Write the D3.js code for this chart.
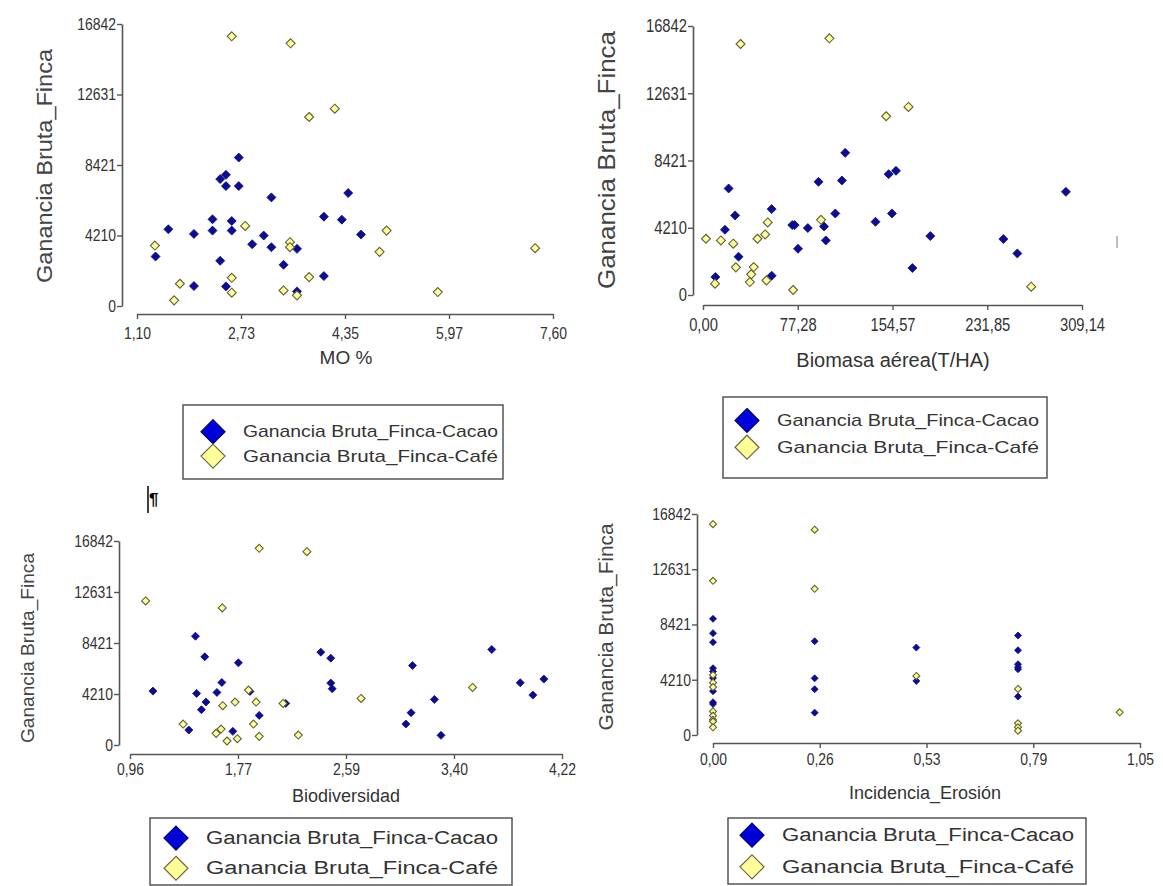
<!DOCTYPE html>
<html>
<head>
<meta charset="utf-8">
<script src="https://cdn.jsdelivr.net/npm/d3@7"></script>
<style>
body{margin:0;background:#fff;}
svg{display:block;font-family:"Liberation Sans",Arial,sans-serif;}
</style>
</head>
<body>
<svg id="chart" width="1163" height="886"></svg>
<script>

// shared y axis (Ganancia Bruta_Finca)
var yDomain = [0, 16842];
var yLabels = ["0", "4210", "8421", "12631", "16842"];
var seriesNames = ["Ganancia Bruta_Finca-Cacao", "Ganancia Bruta_Finca-Café"];

// panel 1 : MO %
var moDomain = [1.10, 7.60];
var moLabels = ["1,10", "2,73", "4,35", "5,97", "7,60"];
var moCacao = [[1.39,2956],[1.59,4582],[1.99,4305],[1.99,1190],[2.28,5178],[2.28,4503],
  [2.40,7578],[2.49,7836],[2.49,7161],[2.40,2698],[2.49,1170],[2.58,5078],[2.58,4503],
  [2.69,8867],[2.69,7161],[2.90,3690],[3.08,4206],[3.20,6487],[3.20,3511],[3.39,2460],
  [3.60,3412],[3.60,873],[4.02,5336],[4.02,1785],[4.30,5158],[4.40,6745],[4.60,4265]];
var moCafe = [[2.58,16108],[3.50,15691],[4.19,11783],[3.79,11287],[2.79,4781],[5.00,4503],
  [4.89,3234],[7.32,3452],[1.38,3610],[1.77,1329],[1.68,337],[2.58,1686],[2.58,793],
  [3.49,3809],[3.49,3511],[3.39,932],[3.60,635],[3.79,1726],[5.80,833]];

// panel 2 : Biomasa aérea(T/HA)
var bioDomain = [0, 309.14];
var bioLabels = ["0,00", "77,28", "154,57", "231,85", "309,14"];
var bioCacao = [[20.9,6669],[26.2,4981],[17.9,4085],[29.0,2397],[10.1,1125],[56.0,5377],
  [56.0,1209],[72.8,4377],[74.8,4377],[77.5,2897],[85.5,4189],[94.2,7086],[98.7,4293],
  [100.2,3418],[107.9,5106],[113.3,7170],[116.0,8900],[140.7,4585],[151.4,7566],
  [157.4,7774],[154.1,5106],[170.8,1688],[185.4,3689],[245.0,3501],[256.4,2605],[296.0,6461]];
var bioCafe = [[30.6,15715],[103.1,16069],[149.4,11192],[167.6,11776],[96.3,4710],[52.8,4544],
  [50.7,3793],[44.4,3522],[2.4,3522],[14.6,3418],[24.7,3210],[26.8,1730],[41.4,1751],
  [39.3,1292],[38.2,813],[9.8,709],[51.8,917],[73.5,313],[267.7,521]];

// panel 3 : Biodiversidad
var divDomain = [0.96, 4.22];
var divLabels = ["0,96", "1,77", "2,59", "3,40", "4,22"];
var divCacao = [[1.133,4451],[1.404,1236],[1.454,8984],[1.463,4258],[1.524,7281],[1.533,3544],
  [1.499,2912],[1.616,4341],[1.653,5165],[1.736,1126],[1.778,6786],[1.935,2445],[1.865,4423],
  [2.135,3434],[2.400,7665],[2.475,7171],[2.475,5110],[2.486,4643],[3.042,1731],[3.081,2665],
  [3.092,6566],[3.257,3764],[3.307,797],[3.690,7885],[3.905,5138],[4.000,4121],[4.083,5440]];
var divCafe = [[1.935,16237],[2.295,15962],[1.078,11896],[1.656,11319],[1.854,4533],[3.545,4753],
  [2.704,3846],[1.753,3544],[1.912,3544],[2.115,3434],[1.660,3242],[1.361,1731],[1.892,1731],
  [1.647,1319],[1.610,962],[1.770,522],[1.692,330],[1.935,714],[2.230,824]];

// panel 4 : Incidencia_Erosión
var eroDomain = [0, 1.05];
var eroLabels = ["0,00", "0,26", "0,53", "0,79", "1,05"];
var eroCacao = [[0,8853],[0,7760],[0,7073],[0,5088],[0,4834],[0,4346],[0,3343],[0,2494],[0,2366],
  [0.25,7144],[0.25,4320],[0.25,3486],[0.25,1705],
  [0.5,6665],[0.5,4121],
  [0.75,7582],[0.75,6460],[0.75,5393],[0.75,5164],[0.75,5012],[0.75,2926]];
var eroCafe = [[0,16070],[0,11751],[0,4577],[0,3985],[0,3651],[0,1800],[0,1466],[0,1157],[0,1029],[0,585],
  [0.25,15646],[0.25,11144],
  [0.5,4503],
  [0.75,3511],[0.75,890],[0.75,585],[0.75,331],
  [1.0,1730]];


var panels = [
  {xDomain:moDomain, xLabels:moLabels, cacao:moCacao, cafe:moCafe, xTitle:"MO %",
   yAxisX:122, yBottom:306, yTop:24, xAxisY:314, xLeft:137, xRight:553, r:4.5,
   tickSize:17, xPad:8,
   yTitleX:44, yTitleY:166, yTitleLen:234, yTitleSize:22, xTitleX:346, xTitleY:357, xTitleSize:19,
   legend:{x:183, y:405, w:320, h:74, rows:[0.36,0.69], font:17, textLen:255, dx:30}},
  {xDomain:bioDomain, xLabels:bioLabels, cacao:bioCacao, cafe:bioCafe, xTitle:"Biomasa aérea(T/HA)",
   yAxisX:693, yBottom:295, yTop:26, xAxisY:305, xLeft:703, xRight:1082, r:4.5,
   tickSize:18, xPad:8,
   yTitleX:606, yTitleY:160, yTitleLen:258, yTitleSize:24, xTitleX:893, xTitleY:360, xTitleSize:20,
   legend:{x:723, y:397, w:324, h:81, rows:[0.29,0.62], font:17, textLen:262, dx:24}},
  {xDomain:divDomain, xLabels:divLabels, cacao:divCacao, cafe:divCafe, xTitle:"Biodiversidad",
   yAxisX:119, yBottom:745, yTop:541, xAxisY:754, xLeft:130, xRight:562, r:4,
   tickSize:17, xPad:4,
   yTitleX:27, yTitleY:648, yTitleLen:190, yTitleSize:19, xTitleX:346, xTitleY:796, xTitleSize:18,
   legend:{x:150, y:818, w:362, h:67, rows:[0.3,0.75], font:18, textLen:292, dx:26}},
  {xDomain:eroDomain, xLabels:eroLabels, cacao:eroCacao, cafe:eroCafe, xTitle:"Incidencia_Erosión",
   yAxisX:697, yBottom:735, yTop:514, xAxisY:743, xLeft:713, xRight:1140, r:3.5,
   tickSize:17, xPad:5,
   yTitleX:606, yTitleY:627, yTitleLen:207, yTitleSize:20, xTitleX:925, xTitleY:793, xTitleSize:18,
   legend:{x:728, y:818, w:358, h:66, rows:[0.26,0.74], font:18, textLen:292, dx:24}}
];

var svg = d3.select("#chart");

function diamond(r){
  return "M0,"+(-r)+"L"+r+",0L0,"+r+"L"+(-r)+",0Z";
}

function quarters(dom){
  return d3.range(5).map(function(i){ return dom[0] + i*(dom[1]-dom[0])/4; });
}

function drawPanel(p){
  var g = svg.append("g");

  var x = d3.scaleLinear().domain(p.xDomain).range([p.xLeft, p.xRight]);
  var y = d3.scaleLinear().domain(yDomain).range([p.yBottom, p.yTop]);

  var yAxis = g.append("g")
    .attr("transform", "translate(" + p.yAxisX + ",0)")
    .call(d3.axisLeft(y)
      .tickValues(quarters(yDomain))
      .tickFormat(function(d,i){ return yLabels[i]; })
      .tickSize(5).tickSizeOuter(0).tickPadding(1));

  var xAxis = g.append("g")
    .attr("transform", "translate(0," + p.xAxisY + ")")
    .call(d3.axisBottom(x)
      .tickValues(quarters(p.xDomain))
      .tickFormat(function(d,i){ return p.xLabels[i]; })
      .tickSize(5).tickSizeOuter(0).tickPadding(p.xPad));

  [yAxis, xAxis].forEach(function(a){
    a.select(".domain").attr("stroke", "#555").attr("stroke-width", 1.6);
    a.selectAll(".tick line").attr("stroke", "#555").attr("stroke-width", 1.4);
    a.selectAll(".tick text").attr("fill", "#333").style("font-size", p.tickSize + "px")
      .style("font-family", "'Liberation Sans',Arial,sans-serif")
      .attr("textLength", function(){ return this.getComputedTextLength()*0.82; })
      .attr("lengthAdjust", "spacingAndGlyphs");
  });

  // y title
  g.append("text")
    .attr("transform", "translate(" + p.yTitleX + "," + p.yTitleY + ") rotate(-90)")
    .attr("text-anchor", "middle")
    .attr("dominant-baseline", "central")
    .attr("fill", "#444")
    .attr("textLength", p.yTitleLen)
    .attr("lengthAdjust", "spacingAndGlyphs")
    .style("font-size", p.yTitleSize + "px")
    .text("Ganancia Bruta_Finca");

  // x title
  g.append("text")
    .attr("x", p.xTitleX).attr("y", p.xTitleY)
    .attr("text-anchor", "middle")
    .attr("dominant-baseline", "central")
    .attr("fill", "#333")
    .style("font-size", p.xTitleSize + "px")
    .text(p.xTitle);

  // points
  g.append("g").selectAll("path")
    .data(p.cacao).enter().append("path")
    .attr("transform", function(d){ return "translate(" + x(d[0]) + "," + y(d[1]) + ")"; })
    .attr("d", diamond(p.r))
    .attr("fill", "#0a0a9c")
    .attr("stroke", "#101060")
    .attr("stroke-width", 0.8);

  g.append("g").selectAll("path")
    .data(p.cafe).enter().append("path")
    .attr("transform", function(d){ return "translate(" + x(d[0]) + "," + y(d[1]) + ")"; })
    .attr("d", diamond(p.r))
    .attr("fill", "#ffff9a")
    .attr("stroke", "#5f6038")
    .attr("stroke-width", 1.1);

  // legend
  var L = p.legend;
  var lg = g.append("g").attr("transform", "translate(" + L.x + "," + L.y + ")");
  lg.append("rect")
    .attr("width", L.w).attr("height", L.h)
    .attr("fill", "#fff").attr("stroke", "#555").attr("stroke-width", 1.5);
  var fills = ["#0000d8", "#ffff99"];
  var strokes = ["#000070", "#6a6a40"];
  seriesNames.forEach(function(name, i){
    var ry = L.h * L.rows[i];
    lg.append("path")
      .attr("transform", "translate(" + L.dx + "," + ry + ")")
      .attr("d", diamond(12))
      .attr("fill", fills[i]).attr("stroke", strokes[i]).attr("stroke-width", 1.2);
    lg.append("text")
      .attr("x", L.dx + 30).attr("y", ry)
      .attr("dominant-baseline", "central")
      .attr("fill", "#333")
      .attr("textLength", L.textLen)
      .attr("lengthAdjust", "spacingAndGlyphs")
      .style("font-size", L.font + "px")
      .text(name);
  });
}

panels.forEach(drawPanel);

// stray marks
svg.append("line")
  .attr("x1", 148).attr("x2", 148).attr("y1", 486).attr("y2", 513)
  .attr("stroke", "#000").attr("stroke-width", 1.5);
svg.append("text")
  .attr("x", 149).attr("y", 505)
  .attr("fill", "#000")
  .style("font-size", "17px").style("font-weight", "bold")
  .text("¶");
svg.append("line")
  .attr("x1", 1117).attr("x2", 1117).attr("y1", 236).attr("y2", 248)
  .attr("stroke", "#aaa").attr("stroke-width", 1.5);

</script>
</body>
</html>
